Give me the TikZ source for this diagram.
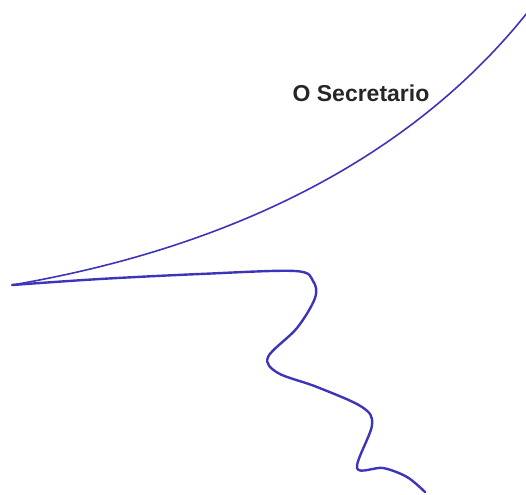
\documentclass[tikz,border=0pt]{standalone}
\usepackage{fontspec}
\setmainfont{Liberation Sans}
\definecolor{ink}{RGB}{62,52,185}
\begin{document}
\begin{tikzpicture}[x=1pt,y=-1pt,
  pen/.style={draw=ink,line width=2.4pt,line cap=round,line join=round},
  thinpen/.style={pen,line width=1.6pt}]
\useasboundingbox (0,0) rectangle (526,494);
\node[font=\bfseries\fontsize{23}{26}\selectfont,text=black!85,inner sep=0pt] (title) at (361,93) {O Secretario};
\coordinate (top) at (527,13);
\coordinate (tip) at (12,285);
\draw[thinpen] (top) .. controls (415,153) and (240,246) .. (tip);
\draw[pen] plot[smooth,tension=0.55] coordinates {(12,285) (100,279) (200,274) (295,271) (313,281) (315,298) (297,328) (268,357) (278,373) (317,387) (362,407) (372,425) (357,468) (383,468) (407,477) (425,492)};
\end{tikzpicture}
\end{document}
